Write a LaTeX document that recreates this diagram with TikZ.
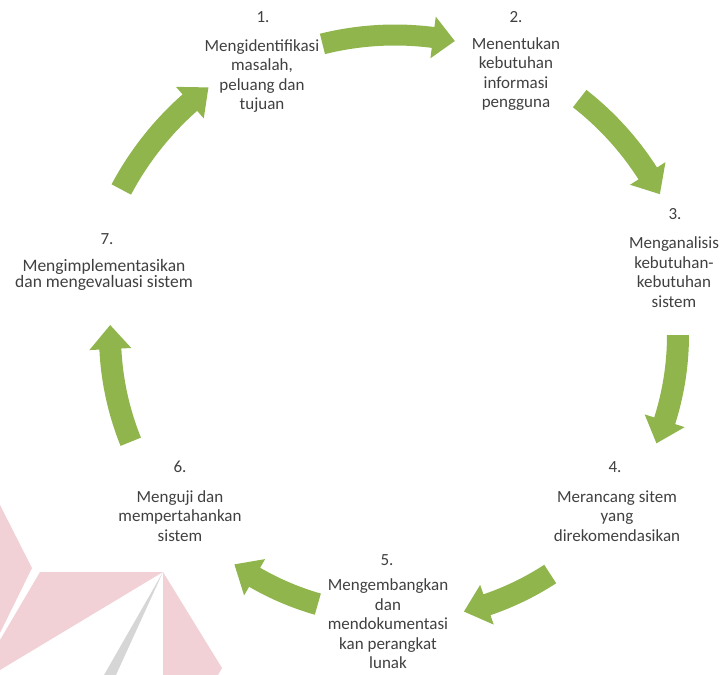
\documentclass[tikz,border=0pt]{standalone}
\usepackage{fontspec}
\setmainfont{Carlito}
\definecolor{arrowgreen}{RGB}{143,181,76}
\definecolor{txtgray}{RGB}{64,64,64}
\definecolor{wmpink}{RGB}{241,209,214}
\definecolor{wmgray}{RGB}{214,214,214}
\newcommand\cycarrow[8]{% cx cy R a1 a2 w H L
  \pgfmathsetmacro\cAro{#3+#6/2}%
  \pgfmathsetmacro\cAri{#3-#6/2}%
  \pgfmathsetmacro\cAhro{#3+#7/2}%
  \pgfmathsetmacro\cAhri{#3-#7/2}%
  \pgfmathsetmacro\cAah{#5-#8/#3*180/pi}%
  \fill[arrowgreen,shift={(#1,#2)}] plot[domain=#4:\cAah,samples=30] (\x:\cAro)
     -- (\cAah:\cAhro) -- (#5:#3) -- (\cAah:\cAhri) -- (\cAah:\cAri)
     -- plot[domain=\cAah:#4,samples=30] (\x:\cAri) -- cycle;
}
\tikzset{
  num/.style={text=txtgray,font=\fontsize{17}{19.5}\selectfont,inner sep=0pt},
  body/.style={text=txtgray,font=\fontsize{17}{19.5}\selectfont,align=center,inner sep=0pt},
  tightbody/.style={text=txtgray,font=\fontsize{17.5}{16}\selectfont,align=center,inner sep=0pt}
}
\begin{document}
\begin{tikzpicture}[x=1pt,y=-1pt]
\useasboundingbox (0,0) rectangle (724,675);
% watermark
\fill[wmpink] (0,505) -- (32,568) -- (0,633) -- cycle;
\fill[wmpink] (40,572) -- (163,572) -- (0,670) -- (0,640) -- cycle;
\fill[wmpink] (163,572) -- (222,668) -- (218,675) -- (163,675) -- cycle;
\fill[wmgray] (163,572) -- (104,675) -- (116,675) -- cycle;
% arrows
\cycarrow{395}{335}{300}{-104}{-78.5}{21}{42}{22}
\cycarrow{395}{335}{300}{-52}{-28}{22}{42}{24}
\cycarrow{395}{335}{283}{0}{22.5}{22}{42}{24}
\cycarrow{395}{335}{285}{57}{76}{22}{42}{24}
\cycarrow{395}{335}{280}{106}{125}{22}{42}{24}
\cycarrow{395}{335}{285}{158}{182}{22}{42}{24}
\cycarrow{395}{335}{310}{208}{233}{22}{42}{24}
% labels
\node[num] (n1) at (263,17) {1.};
\node[body] (b1) at (262,76) {Mengidentifikasi\\masalah,\\peluang dan\\tujuan};
\node[num] (n2) at (516,17) {2.};
\node[body] (b2) at (516,74) {Menentukan\\kebutuhan\\informasi\\pengguna};
\node[num] (n3) at (675,214) {3.};
\node[body] (b3) at (674,272) {Menganalisis\\kebutuhan-\\kebutuhan\\sistem};
\node[num] (n4) at (615,467) {4.};
\node[body] (b4) at (617,516) {Merancang sitem\\yang\\direkomendasikan};
\node[num] (n5) at (387,560) {5.};
\node[body] (b5) at (388,624) {Mengembangkan\\dan\\mendokumentasi\\kan perangkat\\lunak};
\node[num] (n6) at (180,467) {6.};
\node[body] (b6) at (180,516) {Menguji dan\\mempertahankan\\sistem};
\node[num] (n7) at (107,239) {7.};
\node[tightbody] (b7) at (104,275) {Mengimplementasikan\\dan mengevaluasi sistem};
\end{tikzpicture}
\end{document}
